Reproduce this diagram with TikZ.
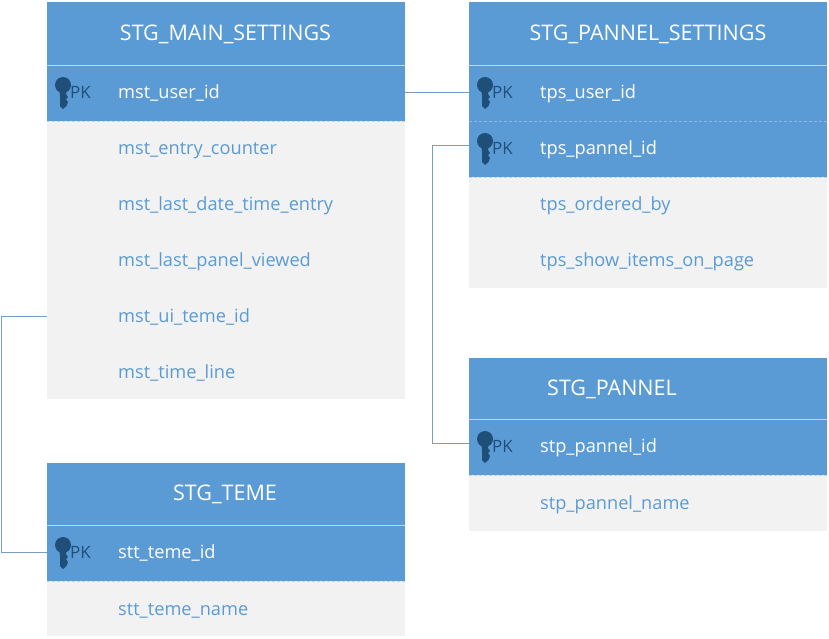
\documentclass[tikz,border=0pt]{standalone}
\usepackage{fontspec}
\setmainfont{Open Sans}
\usetikzlibrary{positioning,calc}
\definecolor{cHead}{HTML}{5B9BD5}
\definecolor{cRow}{HTML}{F2F2F2}
\definecolor{cKey}{HTML}{1F4E79}
\definecolor{cLine}{HTML}{7C9CC0}
\definecolor{cRule}{HTML}{BDD7EE}
\tikzset{
  headbox/.style={rectangle, fill=cHead, minimum width=358pt, inner sep=0pt},
  headtxt/.style={inner sep=0pt, text=white, font=\fontsize{21.5}{24}\selectfont},
  pkbox/.style={rectangle, fill=cHead, minimum width=358pt, minimum height=56pt, inner sep=0pt},
  greybox/.style={rectangle, fill=cRow, minimum width=358pt, inner sep=0pt, anchor=north west},
  pkfield/.style={anchor=base west, inner sep=0pt, text=white, font=\fontsize{18.2}{20}\selectfont},
  field/.style={anchor=base west, inner sep=0pt, text=cHead, font=\fontsize{18.2}{20}\selectfont},
  pktag/.style={anchor=base west, inner sep=0pt, text=cKey, font=\fontsize{17}{19}\selectfont},
  sep/.style={cRule, line width=0.8pt},
  dotsep/.style={cRule, line width=0.7pt, densely dashed},
  wire/.style={cLine, line width=1pt},
}
\newcommand{\keyicon}[2]{%
  \fill[cKey] (#1+16,#2-8) circle (8);
  \fill[cKey] (#1+12.5,#2-3) -- (#1+19.5,#2-3) -- (#1+19,#2+1) -- (#1+21,#2+4) -- (#1+19,#2+6)
    -- (#1+21,#2+9) -- (#1+19.5,#2+13) -- (#1+16,#2+16) -- (#1+13,#2+13) -- (#1+13,#2+4) -- cycle;
}
\begin{document}
\begin{tikzpicture}[x=1pt, y=-1pt]
  \useasboundingbox (0,0) rectangle (829,638);
  % grey parts first
  \node[greybox, minimum height=278pt] (mainbody) at (47,121) {};
  \node[greybox, minimum height=111pt] (setbody) at (469,177) {};
  \node[greybox, minimum height=56pt] (panbody) at (469,475) {};
  \node[greybox, minimum height=55pt] (temebody) at (47,581) {};
  % headers
  \node[headbox, minimum height=63pt] (mainhead) at (226,33.5) {};
  \node[headbox, minimum height=63pt] (sethead) at (648,33.5) {};
  \node[headbox, minimum height=61pt] (panhead) at (648,388.5) {};
  \node[headbox, minimum height=62pt] (temehead) at (226,494) {};
  \node[headtxt] (maintxt) at (225.5,34) {STG\_MAIN\_SETTINGS};
  \node[headtxt] (settxt) at (648,34) {STG\_PANNEL\_SETTINGS};
  \node[headtxt] (pantxt) at (612,389) {STG\_PANNEL};
  \node[headtxt] (temetxt) at (225,494) {STG\_TEME};
  % primary key rows
  \foreach \n/\x/\y/\t in {mstuser/226/93/mst\_user\_id, tpsuser/648/93/tps\_user\_id, tpspannel/648/149/tps\_pannel\_id, stppannel/648/447/stp\_pannel\_id, sttteme/226/553/stt\_teme\_id} {
    \node[pkbox] (\n) at (\x,\y) {};
    \keyicon{\x-179}{\y}
    \node[pktag] (\n tag) at (\x-156,\y+5) {PK};
    \node[pkfield] (\n txt) at (\x-108,\y+5) {\t};
    \draw[dotsep] (\n.south west) -- (\n.south east);
  }
  \draw[sep] (47,65) -- (405,65);
  \draw[sep] (469,65) -- (827,65);
  \draw[dotsep, opacity=0.5] (tpsuser.south west) -- (tpsuser.south east);
  \draw[sep] (469,419) -- (827,419);
  \draw[sep] (47,525) -- (405,525);
  % plain fields
  \foreach \n/\x/\y/\t in {mstcount/118/154/mst\_entry\_counter, mstdate/118/210/mst\_last\_date\_time\_entry, mstview/118/266/mst\_last\_panel\_viewed, mstteme/118/322/mst\_ui\_teme\_id, mstline/118/378/mst\_time\_line, tpsorder/540/210/tps\_ordered\_by, tpsshow/540/266/tps\_show\_items\_on\_page, stpname/540/509/stp\_pannel\_name, sttname/118/615/stt\_teme\_name} {
    \node[field] (\n) at (\x,\y) {\t};
  }
  % links
  \coordinate (mstanchor) at (47,316);
  \draw[wire] ($(mstuser.east)+(0,-1)$) -- ($(tpsuser.west)+(0,-1)$);
  \draw[wire] ($(tpspannel.west)+(0,-4)$) -- ++(-36,0) |- ($(stppannel.west)+(0,-4)$);
  \draw[wire] (mstanchor) -- (1.5,316) |- ($(sttteme.west)+(0,-1)$);
\end{tikzpicture}
\end{document}
